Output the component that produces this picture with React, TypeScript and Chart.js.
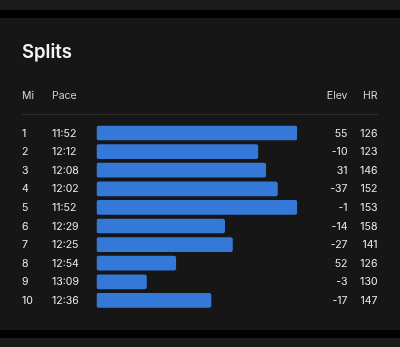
import React, { useEffect, useRef } from "react";
import { Chart, registerables } from "chart.js";

Chart.register(...registerables);

const miles = ["1", "2", "3", "4", "5", "6", "7", "8", "9", "10"];
const paceLabels = ["11:52", "12:12", "12:08", "12:02", "11:52", "12:29", "12:25", "12:54", "13:09", "12:36"];
const paceSeconds = [712, 732, 728, 722, 712, 749, 745, 774, 789, 756];
const elevation = [55, -10, 31, -37, -1, -14, -27, 52, -3, -17];
const heartRate = [126, 123, 146, 152, 153, 158, 141, 126, 130, 147];

const FONT = "Inter, 'Noto Sans', sans-serif";

const textPlugin = {
  id: "splitText",
  afterDraw(chart: any) {
    const ctx = chart.ctx;
    const y = chart.scales.y;
    ctx.save();
    // title
    ctx.fillStyle = "#f4f4f4";
    ctx.font = `600 18.5px ${FONT}`;
    ctx.textBaseline = "alphabetic";
    ctx.textAlign = "left";
    ctx.fillText("Splits", 22, 57.7);
    // headers
    ctx.fillStyle = "#d4d4d4";
    ctx.font = `400 10.5px ${FONT}`;
    ctx.textBaseline = "middle";
    ctx.fillText("Mi", 22, 95.5);
    ctx.fillText("Pace", 52, 95.5);
    ctx.textAlign = "right";
    ctx.fillText("Elev", 347.5, 95.5);
    ctx.fillText("HR", 377.5, 95.5);
    // separator
    ctx.strokeStyle = "#302c2c";
    ctx.lineWidth = 1;
    ctx.beginPath();
    ctx.moveTo(22, 114.5);
    ctx.lineTo(378, 114.5);
    ctx.stroke();
    // rows
    ctx.fillStyle = "#ececec";
    ctx.font = `400 10.5px ${FONT}`;
    miles.forEach((m, i) => {
      const py = y.getPixelForValue(i) + 0.5;
      ctx.textAlign = "left";
      ctx.fillText(m, 22, py);
      ctx.fillText(paceLabels[i], 52, py);
      ctx.textAlign = "right";
      ctx.fillText(String(elevation[i]), 347.5, py);
      ctx.fillText(String(heartRate[i]), 377.5, py);
    });
    ctx.restore();
  },
};

export default function App() {
  const ref = useRef<HTMLCanvasElement>(null);
  useEffect(() => {
    if (!ref.current) return;
    const chart = new Chart(ref.current, {
      type: "bar",
      data: {
        labels: miles,
        datasets: [
          {
            data: paceSeconds,
            base: 814.7,
            backgroundColor: "#3479d8",
            borderColor: "#2d6cc4",
            borderWidth: 0,
            borderRadius: 2,
            borderSkipped: false,
            barPercentage: 0.79,
            categoryPercentage: 1,
          } as any,
        ],
      },
      options: {
        indexAxis: "y",
        responsive: false,
        animation: false,
        events: [],
        layout: { padding: { left: 96.5, right: 102.7, top: 123.7, bottom: 37.3 } },
        plugins: { legend: { display: false }, tooltip: { enabled: false } },
        scales: {
          x: { display: false, reverse: true, min: 712, max: 814.7 },
          y: { display: false },
        },
      },
      plugins: [textPlugin],
    });
    return () => chart.destroy();
  }, []);
  return (
    <div style={{ position: "fixed", left: 0, top: 0, width: 400, height: 347, background: "#1b1b1b", overflow: "hidden" }}>
      <div style={{ position: "absolute", left: 0, top: 10, width: 400, height: 8, background: "#000" }} />
      <div style={{ position: "absolute", left: 0, top: 18, width: 400, height: 311.5, background: "#161616" }} />
      <div style={{ position: "absolute", left: 0, top: 329.5, width: 400, height: 8, background: "#000" }} />
      <canvas ref={ref} width={400} height={347} style={{ position: "absolute", left: 0, top: 0 }} />
    </div>
  );
}
